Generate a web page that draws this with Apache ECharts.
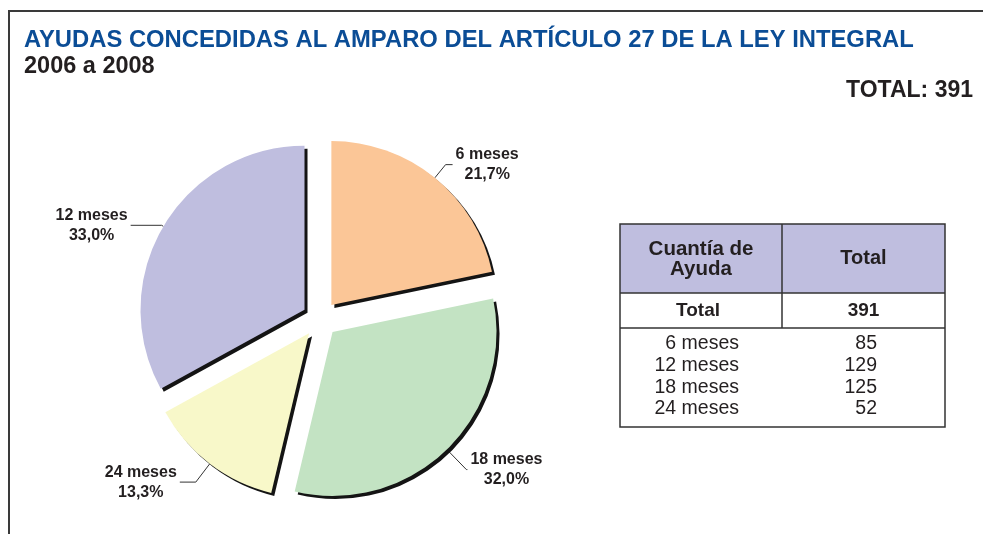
<!DOCTYPE html>
<html>
<head>
<meta charset="utf-8">
<script src="https://cdn.jsdelivr.net/npm/echarts@6/dist/echarts.min.js"></script>
<style>
  html, body { margin: 0; padding: 0; background: #ffffff; }
  #chart { width: 983px; height: 534px; }
</style>
</head>
<body>
<div id="chart"></div>
<script>
// Ayudas por cuantía (meses de subsidio)
const categories = ['6 meses', '12 meses', '18 meses', '24 meses'];
const counts = [85, 129, 125, 52];
// Orden de los sectores en el gráfico (sentido horario desde las 12)
const pieOrder = ['6 meses', '18 meses', '24 meses', '12 meses'];

const titleText = 'AYUDAS CONCEDIDAS AL AMPARO DEL ARTÍCULO 27 DE LA LEY INTEGRAL';
const subtitleText = '2006 a 2008';
const tableHead = ['Cuantía de\nAyuda', 'Total'];
const totalRowLabel = 'Total';

const sliceColors = {
  '6 meses': '#fbc697',
  '12 meses': '#bfbedf',
  '18 meses': '#c3e3c3',
  '24 meses': '#f8f8c9'
};
// Longitudes de las líneas guía [tramo radial, tramo horizontal]
const leaderLens = {
  '6 meses': [17, 7],
  '18 meses': [28, 1],
  '24 meses': [23, 16],
  '12 meses': [2, 31]
};

const FONT = '"Liberation Sans", Arial, Helvetica, sans-serif';
const INK = '#231f20';
const total = counts.reduce((a, b) => a + b, 0);
const pct = v => (v / total * 100).toFixed(1).replace('.', ',');

// Tabla resumen a la derecha
const T = { x: 620, y: 224, w: 325, headH: 69, totalH: 35, bodyH: 99, colX: 782 };
const tableEls = [];
const yHeadBottom = T.y + T.headH;
const yTotalBottom = yHeadBottom + T.totalH;
const yBottom = yTotalBottom + T.bodyH;
const stroke = { stroke: '#333333', lineWidth: 1.5 };

tableEls.push({ type: 'rect', shape: { x: T.x, y: T.y, width: T.w, height: T.headH }, style: { fill: sliceColors['12 meses'] } });
tableEls.push({ type: 'rect', shape: { x: T.x, y: T.y, width: T.w, height: yBottom - T.y }, style: Object.assign({ fill: 'none' }, stroke) });
tableEls.push({ type: 'line', shape: { x1: T.x, y1: yHeadBottom, x2: T.x + T.w, y2: yHeadBottom }, style: stroke });
tableEls.push({ type: 'line', shape: { x1: T.x, y1: yTotalBottom, x2: T.x + T.w, y2: yTotalBottom }, style: stroke });
tableEls.push({ type: 'line', shape: { x1: T.colX, y1: T.y, x2: T.colX, y2: yTotalBottom }, style: stroke });

const c1 = (T.x + T.colX) / 2;
const c2 = (T.colX + T.x + T.w) / 2;
tableEls.push({ type: 'text', style: { text: tableHead[0], x: c1, y: T.y + T.headH / 2 + 1, align: 'center', verticalAlign: 'middle', font: 'bold 20.5px ' + FONT, lineHeight: 20, fill: INK } });
tableEls.push({ type: 'text', style: { text: tableHead[1], x: c2, y: T.y + T.headH / 2, align: 'center', verticalAlign: 'middle', font: 'bold 20px ' + FONT, fill: INK } });
tableEls.push({ type: 'text', style: { text: totalRowLabel, x: c1 - 3, y: yHeadBottom + T.totalH / 2, align: 'center', verticalAlign: 'middle', font: 'bold 19px ' + FONT, fill: INK } });
tableEls.push({ type: 'text', style: { text: String(total), x: c2, y: yHeadBottom + T.totalH / 2, align: 'center', verticalAlign: 'middle', font: 'bold 19px ' + FONT, fill: INK } });
categories.forEach((name, i) => {
  const y = yTotalBottom + 16 + i * 21.7;
  tableEls.push({ type: 'text', style: { text: name, x: 739, y: y, align: 'right', verticalAlign: 'middle', font: '19.5px ' + FONT, fill: INK } });
  tableEls.push({ type: 'text', style: { text: String(counts[i]), x: 877, y: y, align: 'right', verticalAlign: 'middle', font: '19.5px ' + FONT, fill: INK } });
});

const sliceStyle = { shadowColor: '#141414', shadowBlur: 0, shadowOffsetX: 3, shadowOffsetY: 3, borderWidth: 0 };

const chart = echarts.init(document.getElementById('chart'), null, { renderer: 'canvas' });
chart.setOption({
  animation: false,
  backgroundColor: '#ffffff',
  title: [
    {
      text: titleText,
      subtext: subtitleText,
      left: 24, top: 28, itemGap: 3, padding: 0,
      textStyle: { fontFamily: FONT, fontSize: 23.8, fontWeight: 'bold', color: '#0b4d96' },
      subtextStyle: { fontFamily: FONT, fontSize: 23.5, fontWeight: 'bold', color: INK }
    },
    {
      text: 'TOTAL: ' + total,
      right: 10, top: 79, padding: 0,
      textStyle: { fontFamily: FONT, fontSize: 23, fontWeight: 'bold', color: INK }
    }
  ],
  graphic: [
    { type: 'line', shape: { x1: 8, y1: 11, x2: 983, y2: 11 }, style: { stroke: '#3a3a3a', lineWidth: 2 } },
    { type: 'line', shape: { x1: 9, y1: 11, x2: 9, y2: 534 }, style: { stroke: '#3a3a3a', lineWidth: 2 } },
    { type: 'group', children: tableEls }
  ],
  series: [{
    type: 'pie',
    center: [320, 319],
    radius: 164,
    startAngle: 90,
    clockwise: true,
    selectedMode: 'multiple',
    selectedOffset: 18,
    avoidLabelOverlap: false,
    emphasis: { disabled: true },
    itemStyle: sliceStyle,
    select: { itemStyle: sliceStyle },
    data: pieOrder.map(n => ({
      name: n,
      value: counts[categories.indexOf(n)],
      selected: true,
      itemStyle: { color: sliceColors[n] },
      select: { itemStyle: { color: sliceColors[n] } },
      labelLine: { length: leaderLens[n][0], length2: leaderLens[n][1] }
    })),
    label: {
      show: true,
      position: 'outside',
      distanceToLabelLine: 3,
      formatter: p => '{a|' + p.name + '}\n{a|' + pct(p.value) + '%}',
      rich: {
        a: { fontFamily: FONT, fontSize: 16, fontWeight: 'bold', color: INK, align: 'center', lineHeight: 20 }
      }
    },
    labelLine: { show: true, lineStyle: { color: '#333333', width: 1 } }
  }]
});
</script>
</body>
</html>
